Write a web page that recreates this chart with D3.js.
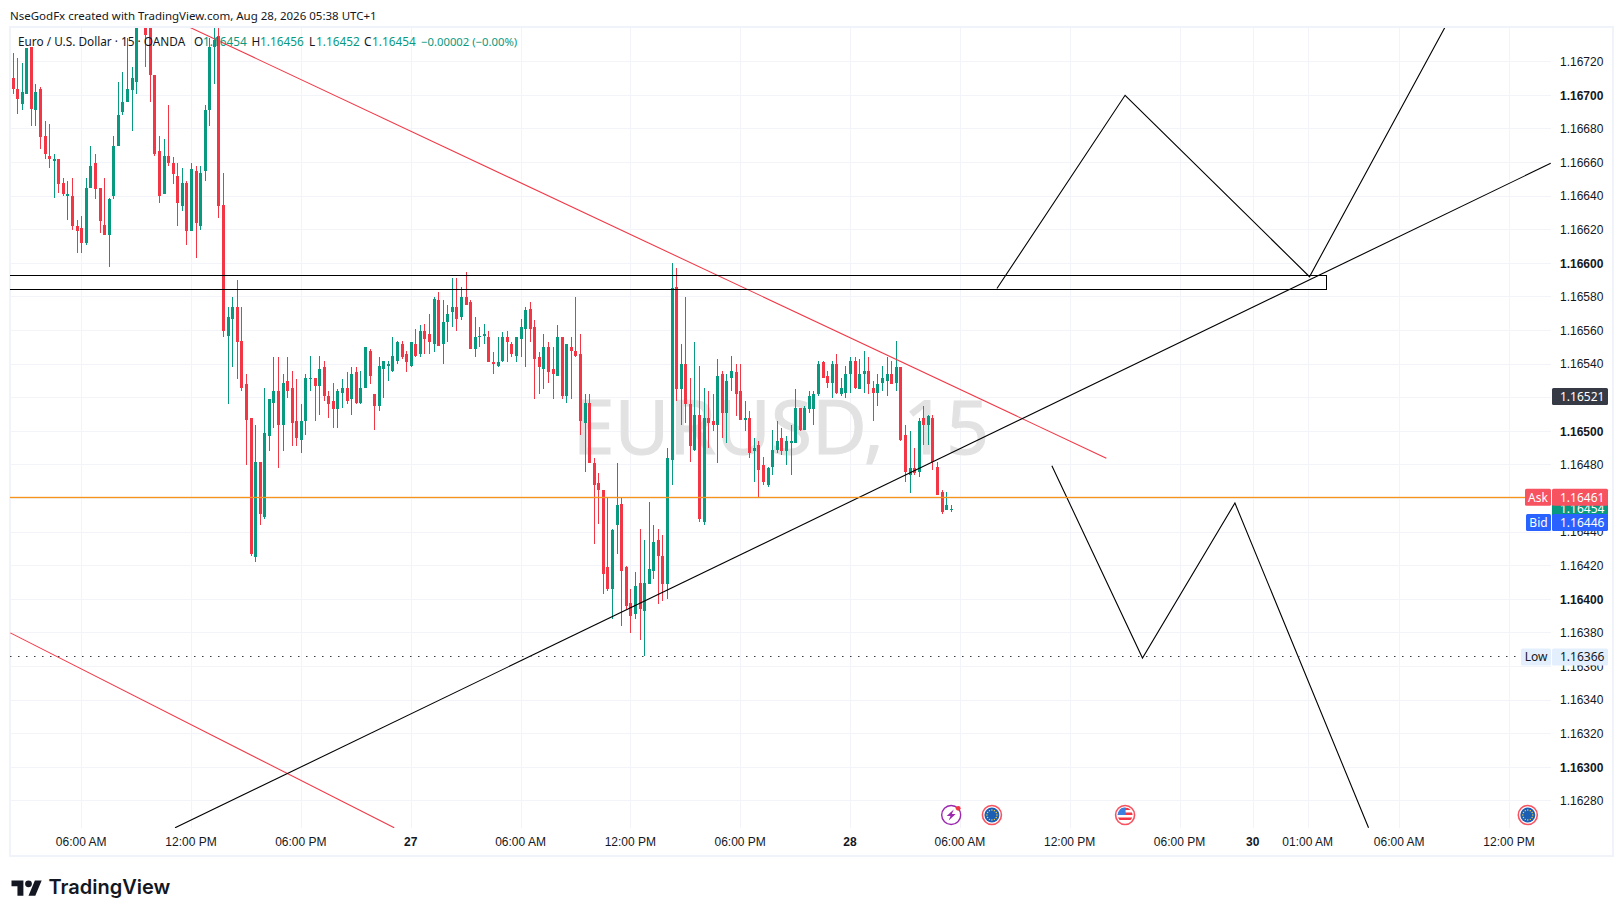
<!DOCTYPE html>
<html>
<head>
<meta charset="utf-8">
<script src="https://cdn.jsdelivr.net/npm/d3@7"></script>
<style>
  html, body { margin: 0; padding: 0; background: #fff; }
  svg { display: block; }
  text { font-family: "Noto Sans", sans-serif; fill: #131722; }
</style>
</head>
<body>
<svg id="chart" width="1623" height="916"></svg>
<script>
// all prices in points (1.16454 -> 116454), bars counted in 15 min steps from 06:00 AM Aug 26
const firstBar = -15;
const highs = [116725,116722,116719,116728,116729,116707,116705,116685,116683,116665,116662,116651,116649,116651,116626,
116628,116651,116670,116665,116645,116651,116639,116676,116708,116714,
116734,116717,116770,116790,116775,116780,116712,116676,116674,116694,
116663,116660,116657,116649,116660,116658,116658,116694,116734,116760,
116750,116654,116574,116580,116590,116574,116534,116508,116504,116482,
116526,116519,116544,116544,116534,116544,116536,116531,116516,116534,
116545,116532,116545,116542,116524,116529,116525,116531,116535,116538,
116538,116536,116550,116549,116522,116544,116542,116542,116556,116554,
116554,116548,116553,116561,116563,116564,116570,116580,116583,116578,
116575,116591,116591,116586,116595,116578,116568,116562,116564,116560,
116547,116556,116559,116560,116553,116556,116567,116574,116577,116566,
116547,116558,116553,116550,116563,116556,116552,116556,116580,116558,
116522,116522,116484,116475,116465,116461,116442,116481,116460,116420,
116406,116416,116442,116435,116458,116444,116442,116438,116490,116600,
116597,116552,116580,116532,116553,116539,116526,116524,116522,116543,
116536,116534,116545,116540,116540,116518,116512,116496,116494,116485,
116479,116501,116506,116502,116497,116504,116525,116514,116515,116524,
116524,116542,116542,116536,116542,116546,116532,116539,116544,116544,
116543,116548,116544,116530,116534,116539,116544,116542,116554,116538,
116504,116500,116490,116508,116515,116510,116510,116482,116465,116464,116456];
const opens = [116710,116704,116695,116701,116729,116691,116704,116676,116664,116661,116662,116648,116640,116640,116622,
116621,116612,116645,116660,116645,116623,116617,116640,116670,116690,
116696,116703,116708,116760,116760,116770,116712,116667,116641,116664,
116660,116652,116634,116648,116619,116655,116622,116655,116691,116729,
116735,116635,116557,116567,116574,116554,116528,116508,116425,116482,
116449,116497,116517,116524,116504,116530,116526,116506,116495,116506,
116531,116532,116527,116538,116521,116518,116513,116523,116526,116519,
116535,116517,116526,116548,116522,116515,116537,116539,116536,116542,
116552,116546,116539,116552,116546,116560,116558,116552,116578,116552,
116565,116571,116574,116568,116580,116577,116549,116556,116557,116556,
116541,116539,116542,116556,116552,116545,116555,116561,116573,116562,
116544,116537,116550,116537,116533,116556,116521,116550,116548,116546,
116505,116517,116481,116469,116465,116419,116406,116444,116457,116419,
116398,116391,116410,116393,116409,116417,116435,116426,116409,116483,
116586,116525,116540,116516,116489,116510,116446,116508,116506,116504,
116534,116511,116532,116535,116524,116507,116508,116488,116492,116480,
116468,116479,116489,116496,116488,116493,116493,116514,116501,116513,
116513,116522,116541,116533,116529,116540,116522,116523,116534,116542,
116525,116534,116536,116526,116523,116529,116530,116534,116529,116538,
116498,116474,116478,116476,116508,116504,116508,116479,116464,116453,116454];
const closes = [116704,116698,116702,116728,116692,116702,116675,116665,116662,116662,116647,116641,116641,116622,116619,
116612,116645,116658,116644,116625,116617,116638,116670,116688,116696,
116704,116710,116755,116780,116736,116712,116665,116640,116664,116660,
116653,116636,116648,116619,116656,116624,116654,116691,116729,116733,
116634,116560,116568,116574,116553,116526,116507,116427,116482,116451,
116499,116519,116524,116504,116529,116524,116505,116496,116506,116532,
116532,116527,116537,116521,116516,116513,116524,116526,116518,116534,
116517,116526,116550,116533,116515,116539,116542,116540,116545,116553,
116544,116541,116553,116545,116560,116555,116553,116579,116551,116565,
116570,116574,116567,116580,116575,116549,116556,116557,116558,116541,
116540,116541,116556,116553,116546,116556,116562,116572,116561,116543,
116538,116550,116535,116534,116556,116521,116552,116548,116545,116506,
116517,116481,116468,116465,116415,116406,116441,116456,116417,116396,
116390,116408,116394,116410,116418,116434,116426,116409,116484,116585,
116525,116540,116516,116491,116510,116448,116508,116505,116504,116533,
116511,116530,116536,116522,116507,116508,116487,116490,116477,116470,
116478,116489,116494,116488,116494,116494,116514,116501,116514,116521,
116522,116540,116532,116529,116540,116523,116526,116534,116542,116526,
116534,116536,116528,116523,116528,116532,116534,116528,116538,116495,
116476,116478,116475,116506,116504,116509,116482,116462,116452,116456,116454];
const lows = [116701,116689,116691,116701,116682,116682,116668,116662,116657,116639,116642,116640,116626,116620,116606,
116606,116611,116645,116638,116618,116617,116598,116638,116670,116688,
116696,116679,116701,116750,116717,116696,116664,116636,116641,116658,
116647,116622,116631,116611,116619,116603,116620,116649,116682,116707,
116627,116556,116516,116538,116531,116524,116480,116426,116422,116444,
116448,116488,116502,116478,116488,116520,116491,116491,116487,116498,
116524,116506,116510,116518,116508,116502,116502,116514,116516,116510,
116516,116516,116526,116528,116501,116512,116520,116530,116535,116540,
116543,116535,116538,116544,116544,116546,116546,116547,116551,116540,
116553,116562,116560,116566,116575,116549,116544,116550,116552,116541,
116534,116538,116541,116541,116544,116541,116544,116538,116553,116519,
116522,116525,116529,116519,116533,116519,116517,116519,116544,116498,
116476,116481,116433,116445,116403,116405,116388,116427,116384,116394,
116380,116388,116376,116366,116409,116412,116397,116399,116400,116468,
116518,116504,116505,116482,116488,116446,116444,116490,116500,116481,
116496,116493,116524,116509,116507,116500,116484,116470,116460,116468,
116467,116474,116487,116486,116480,116474,116493,116500,116501,116511,
116504,116521,116532,116526,116520,116522,116521,116520,116523,116525,
116525,116523,116522,116506,116515,116524,116521,116528,116524,116494,
116470,116463,116474,116473,116492,116492,116477,116462,116451,116453,116452];

const priceTicks = d3.range(116280, 116721, 20);
const timeBars = [0, 24, 48, 72, 96, 120, 144, 168, 192, 216, 240, 256, 268, 288, 312];
const timeLabels = ["06:00 AM", "12:00 PM", "06:00 PM", "27", "06:00 AM", "12:00 PM", "06:00 PM", "28",
  "06:00 AM", "12:00 PM", "06:00 PM", "30", "01:00 AM", "06:00 AM", "12:00 PM"];

// drawings on the chart, as [bar, price]
const redLines = [
  [[23.2, 116741], [223.9, 116484]],
  [[-15.6, 116380], [68.3, 116264]],
];
const blackLines = [
  [[20.4, 116264], [321, 116659.5]],
  [[200, 116585], [228, 116700], [268.3, 116592], [298.8, 116745]],
  [[212, 116479.5], [231.8, 116365], [252, 116457.3], [281.2, 116264]],
];
const zoneBars = [-40, 272];
const zonePrices = [116593, 116584.5];
const ask = 116461, last = 116454, bid = 116446, low = 116366, countdown = 116521;
const eventBars = [190, 198.9, 228, 316];
const eventKinds = ["bolt", "eu", "us", "eu"];

const pane = { left: 10, right: 1551, top: 28, bottom: 828 };
const x = d3.scaleLinear().domain([0, 312]).range([81.7, 1509.5]);
const y = d3.scaleLinear().domain([116280, 116720]).range([800.9, 61.7]);
const green = "#089981", red = "#f23645";
const px = (v) => Math.round(v - 0.5);

const svg = d3.select("#chart");

// frame
svg.append("rect").attr("x", 10).attr("y", 27).attr("width", 1603).attr("height", 829)
  .attr("fill", "none").attr("stroke", "#f0f3fa").attr("stroke-width", 2);

svg.append("clipPath").attr("id", "pane").append("rect")
  .attr("x", pane.left).attr("y", pane.top)
  .attr("width", pane.right - pane.left).attr("height", pane.bottom - pane.top);

// grid
const grid = svg.append("g").attr("fill", "#f2f4f9").attr("shape-rendering", "crispEdges");
grid.selectAll(".h").data(priceTicks).join("rect").attr("class", "h")
  .attr("x", pane.left).attr("width", pane.right - pane.left)
  .attr("y", (d) => px(y(d))).attr("height", 1);
grid.selectAll(".v").data(timeBars).join("rect").attr("class", "v")
  .attr("x", (d) => px(x(d))).attr("width", 1)
  .attr("y", pane.top).attr("height", pane.bottom - pane.top);

// watermark
svg.append("text").attr("x", 781).attr("y", 453.5).attr("text-anchor", "middle")
  .attr("font-size", 75).attr("stroke", "#e2e2e2").attr("stroke-width", 1)
  .style("fill", "#e2e2e2").text("EURUSD, 15");

const chart = svg.append("g").attr("clip-path", "url(#pane)");

// candles
const bars = d3.range(highs.length).map((i) => ({
  bar: firstBar + i, o: opens[i], h: highs[i], l: lows[i], c: closes[i],
}));
const candle = chart.append("g").attr("shape-rendering", "crispEdges")
  .selectAll("g").data(bars).join("g")
  .attr("fill", (d) => (d.c >= d.o ? green : red));
candle.append("rect")
  .attr("x", (d) => px(x(d.bar))).attr("width", 1)
  .attr("y", (d) => Math.round(y(d.h)))
  .attr("height", (d) => Math.max(1, Math.round(y(d.l)) - Math.round(y(d.h))));
candle.append("rect")
  .attr("x", (d) => px(x(d.bar)) - 1).attr("width", 3)
  .attr("y", (d) => Math.round(y(Math.max(d.o, d.c))))
  .attr("height", (d) => Math.max(1, Math.round(y(Math.min(d.o, d.c))) - Math.round(y(Math.max(d.o, d.c)))));

// drawings
const line = d3.line().x((d) => x(d[0])).y((d) => y(d[1]));
chart.selectAll(".red").data(redLines).join("path").attr("class", "red")
  .attr("d", line).attr("fill", "none").attr("stroke", red).attr("stroke-width", 1.05);
chart.selectAll(".black").data(blackLines).join("path").attr("class", "black")
  .attr("d", line).attr("fill", "none").attr("stroke", "#000").attr("stroke-width", 1.1);
chart.append("rect")
  .attr("x", x(zoneBars[0])).attr("width", x(zoneBars[1]) - x(zoneBars[0]))
  .attr("y", px(y(zonePrices[0])) + 0.5).attr("height", Math.round(y(zonePrices[1]) - y(zonePrices[0])))
  .attr("fill", "none").attr("stroke", "#000").attr("shape-rendering", "crispEdges");

// price lines
svg.append("rect").attr("x", pane.left).attr("width", 1515).attr("y", y(ask)).attr("height", 1.3)
  .attr("fill", "#f7931a");
svg.append("line").attr("x1", pane.left).attr("x2", 1519)
  .attr("y1", px(y(low)) + 0.5).attr("y2", px(y(low)) + 0.5)
  .attr("stroke", "#363a45").attr("stroke-dasharray", "1.5 6.5");

// axes
const priceAxis = svg.append("g").attr("transform", "translate(1552,0)")
  .call(d3.axisRight(y).tickValues(priceTicks).tickSize(0).tickPadding(8)
    .tickFormat((d) => (d / 1e5).toFixed(5)));
priceAxis.select(".domain").remove();
priceAxis.selectAll("text").attr("font-size", 12).attr("font-family", null)
  .style("font-family", "inherit")
  .attr("font-weight", (d) => (d % 100 === 0 ? 600 : 400));

const timeAxis = svg.append("g").attr("transform", "translate(-1,837)")
  .call(d3.axisBottom(x).tickValues(timeBars).tickSize(0).tickPadding(0)
    .tickFormat((d, i) => timeLabels[i]));
timeAxis.select(".domain").remove();
timeAxis.selectAll("text").attr("font-size", 12).attr("font-family", null)
  .style("font-family", "inherit")
  .attr("font-weight", (d, i) => (timeLabels[i].length < 3 ? 700 : 400));

// price tags
const tags = [
  { label: null, price: last, color: green, text: "#fff" },
  { label: "Ask", price: ask, color: "#f7525f", text: "#fff", lx: 1525 },
  { label: "Bid", price: bid, color: "#2962ff", text: "#fff", lx: 1526 },
  { label: "Low", price: low, color: "#e3effd", text: "#131722", lx: 1521 },
  { label: null, price: countdown, color: "#363a45", text: "#fff" },
];
const tagLayer = svg.append("g");
for (const t of tags) {
  const cy = y(t.price) + 0.5;
  const g = tagLayer.append("g");
  if (t.label) {
    g.append("rect").attr("x", t.lx).attr("width", 1551 - t.lx).attr("y", cy - 8.5).attr("height", 17)
      .attr("rx", 1.5).attr("fill", t.color);
    g.append("text").attr("x", (t.lx + 1551) / 2).attr("y", cy + 4.2).attr("text-anchor", "middle")
      .attr("font-size", 12).style("fill", t.text).text(t.label);
  }
  g.append("rect").attr("x", 1552).attr("width", 56).attr("y", cy - 8.5).attr("height", 17)
    .attr("rx", 1.5).attr("fill", t.color);
  g.append("text").attr("x", 1560).attr("y", cy + 4.2)
    .attr("font-size", 12).style("fill", t.text).text((t.price / 1e5).toFixed(5));
}

// event icons on the time strip
const flagY = 815;
function euIcon(g) {
  g.append("circle").attr("r", 9.5).attr("fill", "#fff").attr("stroke", "#f7525f").attr("stroke-width", 1.6);
  g.append("circle").attr("r", 7.5).attr("fill", "#1b5fb5");
  g.selectAll(".star").data(d3.range(12)).join("circle").attr("class", "star")
    .attr("cx", (d) => 5 * Math.cos((d * Math.PI) / 6)).attr("cy", (d) => 5 * Math.sin((d * Math.PI) / 6))
    .attr("r", 0.7).attr("fill", "#ffd23c");
}
function usIcon(g, id) {
  g.append("circle").attr("r", 9.5).attr("fill", "#fff").attr("stroke", "#f7525f").attr("stroke-width", 1.6);
  g.append("clipPath").attr("id", id).append("circle").attr("r", 7.5);
  const f = g.append("g").attr("clip-path", `url(#${id})`);
  f.append("rect").attr("x", -8).attr("y", -8).attr("width", 16).attr("height", 16).attr("fill", "#fff");
  [-7.5, -2.5, 2.5].forEach((s) => f.append("rect").attr("x", -8).attr("y", s).attr("width", 16).attr("height", 2.5).attr("fill", "#f23645"));
  f.append("rect").attr("x", -8).attr("y", -8).attr("width", 8.5).attr("height", 8).attr("fill", "#3b7fe0");
}
function boltIcon(g) {
  g.append("circle").attr("r", 9.5).attr("fill", "#fff").attr("stroke", "#9c27b0").attr("stroke-width", 1.4);
  g.append("path").attr("d", "M2.5 -5.5 L-4.5 1 L-0.7 1 L-2.5 5.5 L4.5 -1 L0.7 -1 Z").attr("fill", "#9c27b0");
  g.append("circle").attr("cx", 7).attr("cy", -6.7).attr("r", 2.4).attr("fill", "#f23645");
}
eventBars.forEach((b, i) => {
  const g = svg.append("g").attr("transform", `translate(${x(b)},${flagY})`);
  if (eventKinds[i] === "eu") euIcon(g);
  else if (eventKinds[i] === "us") usIcon(g, `us${i}`);
  else boltIcon(g);
});

// header and legend
svg.append("text").attr("x", 10).attr("y", 19.5).attr("font-size", 11.5)
  .text("NseGodFx created with TradingView.com, Aug 28, 2026 05:38 UTC+1");
const legendParts = [
  [18, "Euro / U.S. Dollar · 15 · OANDA", "#131722", 11.8],
  [194, "O", "#131722", 11.8], [203, "1.16454", green, 11.8],
  [251.5, "H", "#131722", 11.8], [260, "1.16456", green, 11.8],
  [309, "L", "#131722", 11.8], [316, "1.16452", green, 11.8],
  [364, "C", "#131722", 11.8], [372, "1.16454", green, 11.8],
  [421, "−0.00002 (−0.00%)", green, 11.3],
];
svg.append("g").selectAll("text").data(legendParts).join("text")
  .attr("x", (d) => d[0]).attr("y", 46).attr("font-size", (d) => d[3])
  .style("fill", (d) => d[2]).text((d) => d[1]);

// logo
const logo = svg.append("g").attr("transform", "translate(11.5,877) scale(0.85)");
logo.append("path").attr("d", "M14 22H7V11H0V4h14v18zM28 22h-8l7.5-18h8L28 22z").attr("fill", "#131722");
logo.append("circle").attr("cx", 20).attr("cy", 8).attr("r", 4).attr("fill", "#131722");
svg.append("text").attr("x", 48.5).attr("y", 893.5).attr("font-size", 20).attr("font-weight", 600)
  .style("font-family", "Inter").text("TradingView");
</script>
</body>
</html>
